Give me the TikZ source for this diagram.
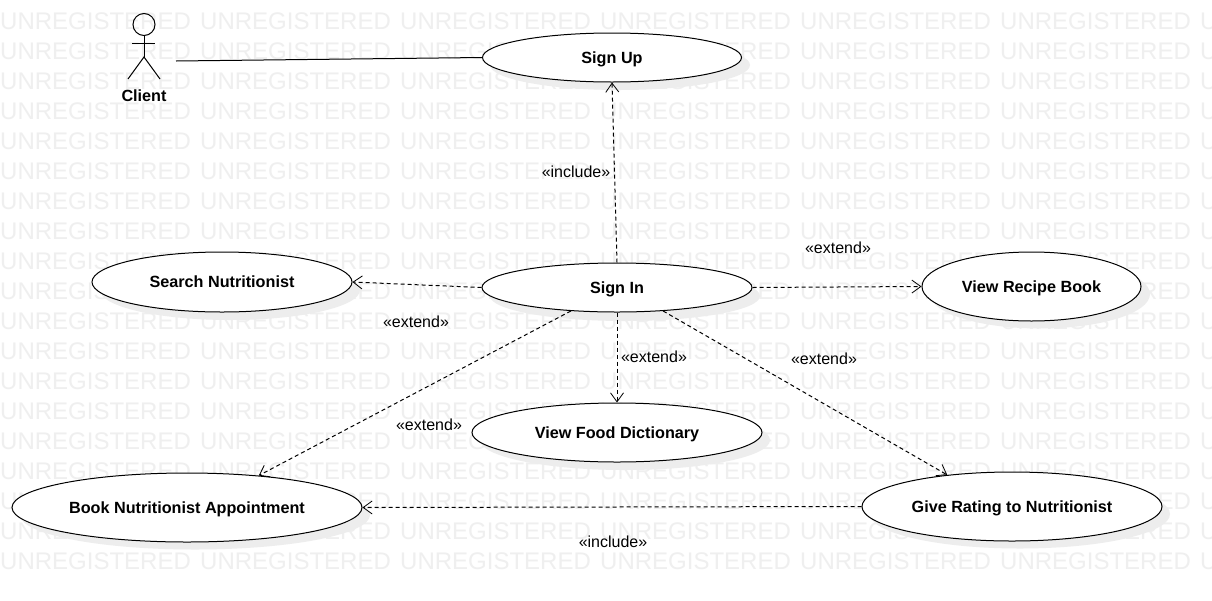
\documentclass[tikz,border=0pt]{standalone}
\usepackage{fontspec}
\setmainfont{Liberation Sans}
\usetikzlibrary{arrows.meta,shapes.geometric}
\definecolor{wmark}{HTML}{EFEFEF}
\definecolor{shade}{HTML}{EDEDED}
\newcommand{\uctext}[1]{\raisebox{-5.8pt}[0pt][0pt]{#1}}
\tikzset{
  x=1pt,y=-1pt,
  wm/.style={inner sep=0pt,anchor=west,text=wmark,font=\fontsize{24}{24}\selectfont},
  usecase/.style={ellipse,draw=black,line width=1pt,fill=white,inner sep=0pt,font=\fontsize{16.2}{18}\selectfont\bfseries},
  shadowfill/.style={fill=shade,draw=none},
  assoc/.style={draw=black,line width=1pt},
  dep/.style={draw=black,line width=1pt,dash pattern=on 4pt off 3pt,-{Straight Barb[length=9pt,width=13pt,line width=0.8pt]}},
  lbl/.style={inner sep=0pt,font=\fontsize{16}{18}\selectfont},
  stick/.style={draw=black,line width=1pt}
}
\begin{document}
\begin{tikzpicture}
\useasboundingbox (0,0) rectangle (1212,600);
\clip (0,0) rectangle (1212,600);
\fill[white] (0,0) rectangle (1212,600);
\foreach \r in {0,...,18}{
  \foreach \c in {0,...,6}{
    \node[wm] (wm\r-\c) at ({\c*200},{21+\r*30}) {UNREGISTERED};
  }
}
% shadows
\fill[shadowfill] (620,65) ellipse [x radius=130,y radius=25];
\fill[shadowfill] (625,296) ellipse [x radius=135,y radius=25];
\fill[shadowfill] (230,290) ellipse [x radius=130,y radius=30];
\fill[shadowfill] (1040,294) ellipse [x radius=110,y radius=34.5];
\fill[shadowfill] (625,440) ellipse [x radius=145,y radius=30];
\fill[shadowfill] (195,515) ellipse [x radius=175,y radius=34.5];
\fill[shadowfill] (1020,514) ellipse [x radius=150,y radius=34.5];
% use cases
\node[usecase,minimum width=259pt,minimum height=49pt] (signup) at (612,57.5) {\uctext{Sign Up}};
\node[usecase,minimum width=270pt,minimum height=49pt] (signin) at (617,287.5) {\uctext{Sign In}};
\node[usecase,minimum width=260pt,minimum height=60pt] (search) at (222,282) {\uctext{Search Nutritionist}};
\node[usecase,minimum width=219pt,minimum height=69pt] (recipe) at (1031.5,286.5) {\uctext{View Recipe Book}};
\node[usecase,minimum width=290pt,minimum height=59pt] (food) at (617,432.5) {\uctext{View Food Dictionary}};
\node[usecase,minimum width=350pt,minimum height=69pt] (book) at (187,507.5) {\uctext{Book Nutritionist Appointment}};
\node[usecase,minimum width=300pt,minimum height=69pt] (rating) at (1012,506.5) {\uctext{Give Rating to Nutritionist}};
% actor
\node[circle,stick,minimum size=22pt,inner sep=0pt] (head) at (144,24.5) {};
\coordinate (hip) at (144,57);
\coordinate (armL) at (132,43);
\coordinate (armR) at (155,43);
\coordinate (legL) at (128,79);
\coordinate (legR) at (160,79);
\draw[stick] (head.south) -- (hip);
\draw[stick] (armL) -- (armR);
\draw[stick] (legL) -- (hip) -- (legR);
\node[inner sep=0pt,font=\fontsize{16.2}{18}\selectfont\bfseries] (client) at (144,96) {Client};
\coordinate (actorend) at (176,61);
% connectors
\draw[assoc] (actorend) -- (signup.west);
\draw[dep] (signin.north) -- (signup.south);
\draw[dep] (signin.west) -- (search.east);
\draw[dep] (signin.east) -- (recipe.west);
\draw[dep] (signin.south) -- (food.north);
\draw[dep] (signin.207) -- (book.24);
\draw[dep] (signin.333) -- (rating.154);
\draw[dep] (rating.west) -- (book.east);
% labels
\node[lbl] (l1) at (576,171.5) {«include»};
\node[lbl] (l2) at (613,541.5) {«include»};
\node[lbl] (l3) at (838,247.5) {«extend»};
\node[lbl] (l4) at (416,321.5) {«extend»};
\node[lbl] (l5) at (654,356.5) {«extend»};
\node[lbl] (l6) at (824,358.5) {«extend»};
\node[lbl] (l7) at (429,424.5) {«extend»};
\end{tikzpicture}
\end{document}
